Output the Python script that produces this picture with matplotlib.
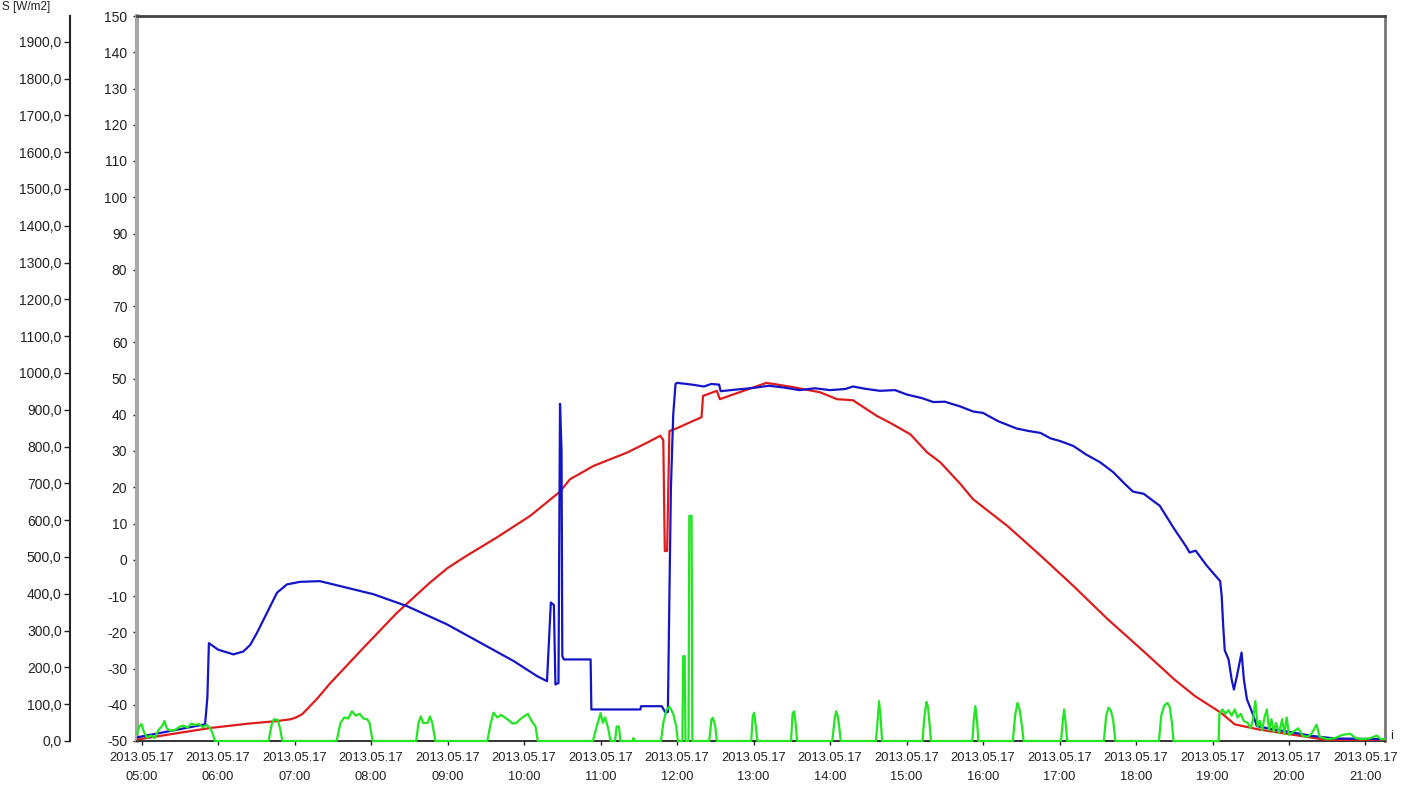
import matplotlib
matplotlib.use("Agg")
import matplotlib.pyplot as plt
from matplotlib.ticker import FixedLocator, FuncFormatter

plt.rcParams['font.family'] = ['Liberation Sans', 'DejaVu Sans']

# ---------------- data (time in hours of 2013.05.17, values on inner axis) -------------
hours = list(range(5, 22))
date_label = "2013.05.17"

red_t = [4.94, 5.3, 5.9, 6.4, 6.77, 6.95, 7.03, 7.1, 7.16, 7.3, 7.46, 7.9, 8.34, 8.77, 9.0, 9.21,
         9.64, 10.08, 10.47, 10.6, 10.91, 11.35, 11.6, 11.78, 11.82, 11.84, 11.87, 11.9, 12.0,
         12.21, 12.32, 12.34, 12.52, 12.56, 12.87, 13.17, 13.52, 13.87, 14.09, 14.3, 14.61,
         14.8, 15.05, 15.27, 15.44, 15.7, 15.87, 16.32, 16.76, 17.18, 17.63, 18.07, 18.5,
         18.77, 19.11, 19.29, 19.6, 20.03, 20.46, 20.8, 21.25]
red_v = [-49.6, -48.4, -46.4, -45.2, -44.5, -44.0, -43.4, -42.6, -41.3, -38.2, -34.2, -24.3, -14.6,
         -6.3, -2.3, 0.6, 6.1, 12.1, 18.8, 22.2, 25.9, 29.6, 32.2, 34.2, 33.0, 2.4, 2.4, 35.5,
         36.3, 38.3, 39.3, 45.2, 46.6, 44.3, 46.6, 48.8, 47.6, 46.2, 44.3, 44.0, 39.7, 37.6,
         34.6, 29.6, 26.9, 21.0, 16.7, 9.3, 1.0, -7.2, -16.4, -24.7, -33.0, -37.6, -42.2,
         -45.4, -46.8, -48.2, -49.6, -49.8, -49.8]

blue_t = [4.94, 5.83, 5.86, 5.88, 6.0, 6.2, 6.33, 6.42, 6.51, 6.64, 6.77, 6.9, 7.07, 7.33, 7.68,
          8.03, 8.47, 8.99, 9.43, 9.86, 10.17, 10.30, 10.35, 10.39, 10.41, 10.45, 10.47, 10.49,
          10.50, 10.52, 10.87, 10.88, 11.52, 11.53, 11.80, 11.85, 11.88, 11.90, 11.92, 11.95,
          11.98, 12.0, 12.2, 12.35, 12.45, 12.55, 12.57, 12.8, 13.0, 13.2, 13.4, 13.6, 13.8,
          14.0, 14.2, 14.3, 14.45, 14.65, 14.85, 15.0, 15.2, 15.35, 15.5, 15.7, 15.87, 16.0,
          16.2, 16.44, 16.6, 16.75, 16.88, 17.0, 17.18, 17.35, 17.53, 17.7, 17.85, 17.96, 18.1,
          18.31, 18.5, 18.66, 18.7, 18.78, 18.92, 19.1, 19.12, 19.14, 19.16, 19.21, 19.25,
          19.28, 19.32, 19.38, 19.41, 19.45, 19.52, 19.58, 19.8, 20.01, 20.3, 20.6, 21.25]
blue_v = [-49.0, -45.4, -38.0, -23.0, -24.8, -26.1, -25.3, -23.5, -20.1, -14.6, -9.1, -6.8,
          -6.1, -5.9, -7.7, -9.5, -12.8, -17.8, -22.9, -27.9, -32.1, -33.5, -11.8, -12.5, -34.4,
          -34.0, 43.0, 30.0, -26.6, -27.5, -27.5, -41.3, -41.3, -40.4, -40.4, -42.2, -42.0, -10.0,
          20.0, 40.0, 48.5, 48.8, 48.3, 47.8, 48.5, 48.3, 46.5, 47.0, 47.4, 48.0, 47.5, 46.8,
          47.3, 46.8, 47.1, 47.8, 47.2, 46.6, 46.8, 45.6, 44.6, 43.5, 43.6, 42.3, 40.9, 40.5,
          38.2, 36.2, 35.5, 35.0, 33.5, 32.8, 31.4, 29.0, 26.9, 24.2, 21.0, 18.8, 18.2, 14.9,
          8.5, 3.5, 2.0, 2.5, -1.5, -5.9, -10.0, -18.3, -25.0, -27.5, -33.0, -35.8, -32.0,
          -25.6, -33.0, -38.5, -42.2, -45.9, -46.8, -47.5, -48.6, -49.3, -49.5]

green_t = [4.94, 4.97, 5.0, 5.03, 5.07, 5.12, 5.17, 5.22, 5.27, 5.3, 5.33, 5.38, 5.45, 5.5,
           5.55, 5.6, 5.65, 5.7, 5.75, 5.8, 5.85, 5.9, 5.93, 5.96,
           6.66, 6.7, 6.73, 6.78, 6.81, 6.84,
           7.55, 7.6, 7.65, 7.7, 7.75, 7.8, 7.85, 7.9, 7.95, 7.98, 8.02,
           8.59, 8.62, 8.65, 8.68, 8.74, 8.77, 8.8, 8.84,
           9.52, 9.56, 9.6, 9.65, 9.7, 9.75, 9.8, 9.85, 9.9, 9.95, 10.0, 10.05, 10.1, 10.15, 10.18,
           10.9, 10.95, 11.0, 11.03, 11.06, 11.1, 11.13, 11.19, 11.21, 11.24, 11.26,
           11.42, 11.43, 11.44,
           11.79, 11.82, 11.86, 11.9, 11.95, 11.99, 12.01,
           12.07, 12.08, 12.1, 12.11, 12.15, 12.16, 12.19, 12.2,
           12.42, 12.45, 12.47, 12.5, 12.52,
           12.97, 12.99, 13.01, 13.03, 13.05,
           13.49, 13.51, 13.53, 13.55, 13.57,
           14.03, 14.06, 14.08, 14.1, 14.12, 14.14,
           14.6, 14.62, 14.64, 14.66, 14.68,
           15.21, 15.23, 15.26, 15.28, 15.3, 15.32,
           15.86, 15.88, 15.9, 15.92, 15.94,
           16.39, 16.42, 16.45, 16.48, 16.51, 16.53,
           17.02, 17.04, 17.06, 17.08, 17.1,
           17.58, 17.61, 17.64, 17.67, 17.7, 17.73,
           18.3, 18.33, 18.37, 18.41, 18.44, 18.47, 18.49,
           19.08, 19.09, 19.13, 19.17, 19.21, 19.25, 19.29, 19.33, 19.37, 19.41, 19.46, 19.5,
           19.53, 19.56, 19.59, 19.62, 19.65, 19.68, 19.71, 19.74, 19.77, 19.8, 19.83, 19.87,
           19.91, 19.94, 19.97, 20.0, 20.05, 20.12, 20.18, 20.25, 20.3, 20.36, 20.4, 20.5,
           20.6, 20.7, 20.8, 20.87, 20.95, 21.05, 21.15, 21.2, 21.25]
green_v = [-48.0, -46.0, -45.3, -47.5, -49.0, -48.5, -49.2, -47.0, -45.8, -44.5, -46.5, -47.2,
           -46.8, -46.0, -45.8, -46.3, -45.2, -45.6, -45.3, -46.2, -45.5, -46.6, -48.0, -50.0,
           -50.0, -45.5, -44.0, -44.2, -46.5, -50.0,
           -50.0, -45.0, -43.5, -43.8, -41.8, -43.0, -42.5, -43.8, -44.0, -45.0, -50.0,
           -50.0, -45.0, -43.2, -45.0, -45.0, -43.2, -45.0, -50.0,
           -50.0, -45.5, -42.2, -43.5, -42.8, -43.5, -44.3, -45.2, -45.0, -44.0, -43.2, -42.5,
           -44.5, -46.0, -50.0,
           -50.0, -46.0, -42.3, -45.0, -43.5, -46.5, -50.0, -50.0, -46.0, -46.0, -50.0,
           -50.0, -49.2, -50.0,
           -50.0, -45.0, -41.5, -40.5, -42.5, -46.0, -50.0,
           -50.0, -26.6, -26.6, -50.0, -50.0, 12.1, 12.1, -50.0,
           -50.0, -44.0, -43.6, -46.0, -50.0,
           -50.0, -43.0, -42.2, -46.0, -50.0,
           -50.0, -42.5, -41.8, -45.0, -50.0,
           -50.0, -44.0, -41.8, -43.0, -46.0, -50.0,
           -50.0, -45.0, -39.0, -43.0, -50.0,
           -50.0, -44.0, -39.2, -40.5, -45.0, -50.0,
           -50.0, -44.0, -40.4, -44.0, -50.0,
           -50.0, -43.0, -39.5, -41.5, -46.0, -50.0,
           -50.0, -45.0, -41.3, -45.0, -50.0,
           -50.0, -43.0, -40.8, -41.5, -44.0, -50.0,
           -50.0, -43.0, -40.2, -39.5, -40.5, -45.0, -50.0,
           -50.0, -42.5, -41.3, -42.5, -41.5, -43.0, -41.3, -43.5, -42.5, -44.5, -45.0, -46.5,
           -44.0, -39.0, -46.0, -44.4, -47.0, -43.5, -41.3, -47.0, -44.0, -47.5, -45.0, -47.8,
           -44.0, -48.0, -43.5, -48.3, -47.5, -46.5, -48.6, -48.8, -47.8, -45.5, -48.8, -49.5,
           -49.2, -48.3, -48.0, -49.2, -49.5, -49.3, -48.5, -49.5, -49.5]

inner_ticks = list(range(-50, 151, 10))
outer_ticks = list(range(0, 2000, 100))
y_label_outer = "S [W/m2]"

# ---------------- figure -------------
W, H = 1408, 789
fig = plt.figure(figsize=(W / 100, H / 100), dpi=100)
L, R, T, B = 137, 1385, 16, 741
ax = fig.add_axes([L / W, 1 - B / H, (R - L) / W, (B - T) / H])

ax.plot(red_t, red_v, color='#dd1c1c', lw=1.6, zorder=3)
ax.plot(blue_t, blue_v, color='#1414c8', lw=1.6, zorder=4)
ax.plot(green_t, green_v, color='#22e622', lw=1.6, zorder=5, clip_on=False)

ax.set_xlim(4.94, 21.255)
ax.set_ylim(-50, 150)

ax.set_xticks(hours)
ax.set_xticklabels([f"{date_label}\n{h:02d}:00" for h in hours], fontsize=9.3, linespacing=1.75)
ax.tick_params(axis='x', length=3, width=1, pad=5, colors='#222222')
ax.set_yticks(inner_ticks)
ax.set_yticklabels([str(v) for v in inner_ticks], fontsize=10)
ax.tick_params(axis='y', length=3, width=1, pad=4, colors='#222222')

ax.spines['left'].set_color('#a8a8a8')
ax.spines['left'].set_linewidth(3)
ax.spines['top'].set_color('#444444')
ax.spines['top'].set_linewidth(2)
ax.spines['right'].set_color('#777777')
ax.spines['right'].set_linewidth(2)
ax.spines['bottom'].set_color('#111111')
ax.spines['bottom'].set_linewidth(1.2)

# outer (left) axis in W/m2
ax2 = ax.twinx()
ax2.set_ylim(0, 1970)
ax2.yaxis.set_ticks_position('left')
ax2.yaxis.set_label_position('left')
ax2.spines['left'].set_position(('axes', (70 - L) / (R - L)))
ax2.spines['left'].set_visible(True)
ax2.spines['left'].set_color('#222222')
ax2.spines['left'].set_linewidth(1.5)
for s in ('right', 'top', 'bottom'):
    ax2.spines[s].set_visible(False)
ax2.yaxis.set_major_locator(FixedLocator(outer_ticks))
ax2.yaxis.set_major_formatter(FuncFormatter(lambda v, p: f"{v:.1f}".replace('.', ',')))
ax2.tick_params(axis='y', length=4, width=1, pad=2, labelsize=10, colors='#222222')
ax2.patch.set_visible(False)

fig.text(2 / W, 1 - 1 / H, y_label_outer, fontsize=8.5, va='top', ha='left', color='#222222')
fig.text(1390 / W, 1 - 736 / H, "i", fontsize=9, va='center', ha='left', color='#222222')

fig.savefig("out.png", dpi=100)
